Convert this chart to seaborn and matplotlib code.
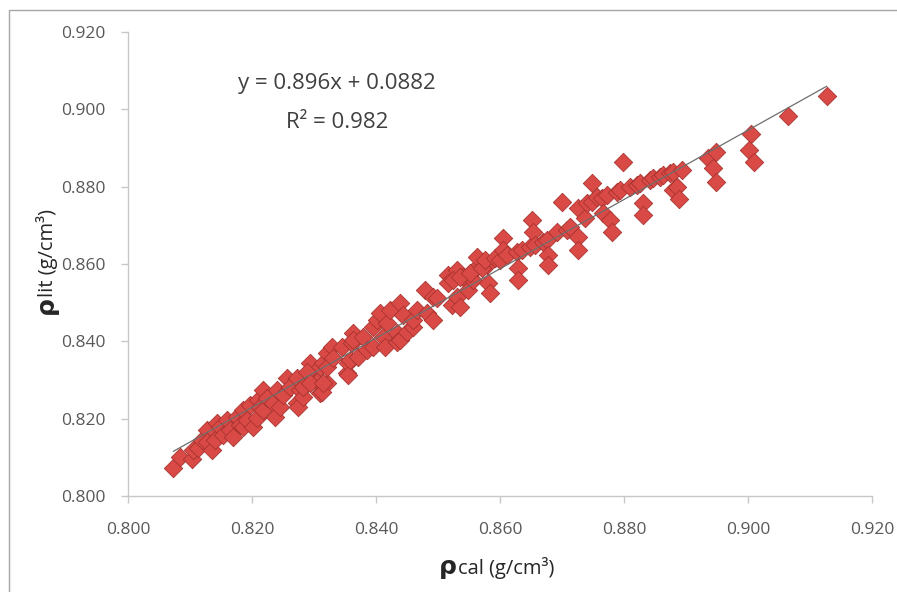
import matplotlib

matplotlib.use("Agg")
import matplotlib.pyplot as plt  # noqa: E402
import numpy as np  # noqa: E402
import seaborn as sns  # noqa: E402
from matplotlib.patches import Rectangle  # noqa: E402

# calculated density (x) vs literature density (y), g/cm3
rho_cal = [
    0.8073, 0.8084, 0.8103, 0.8105, 0.8113, 0.8119, 0.8127, 0.8127, 0.8135, 0.8140,
    0.8143, 0.8148, 0.8153, 0.8160, 0.8165, 0.8169, 0.8176, 0.8181, 0.8185, 0.8185,
    0.8192, 0.8197, 0.8202, 0.8208, 0.8210, 0.8213, 0.8218, 0.8218, 0.8224, 0.8234,
    0.8237, 0.8240, 0.8245, 0.8250, 0.8256, 0.8261, 0.8272, 0.8272, 0.8274, 0.8277,
    0.8282, 0.8289, 0.8294, 0.8294, 0.8305, 0.8305, 0.8310, 0.8315, 0.8321, 0.8321,
    0.8321, 0.8282, 0.8289, 0.8294, 0.8313, 0.8315, 0.8329, 0.8331, 0.8345, 0.8353,
    0.8355, 0.8355, 0.8358, 0.8361, 0.8363, 0.8363, 0.8371, 0.8379, 0.8385, 0.8395,
    0.8395, 0.8402, 0.8406, 0.8411, 0.8415, 0.8418, 0.8423, 0.8434, 0.8434, 0.8439,
    0.8439, 0.8444, 0.8450, 0.8460, 0.8460, 0.8466, 0.8479, 0.8482, 0.8492, 0.8492,
    0.8498, 0.8516, 0.8516, 0.8523, 0.8531, 0.8531, 0.8535, 0.8540, 0.8548, 0.8556,
    0.8563, 0.8563, 0.8579, 0.8581, 0.8584, 0.8524, 0.8535, 0.8552, 0.8571, 0.8576,
    0.8592, 0.8600, 0.8605, 0.8605, 0.8611, 0.8627, 0.8629, 0.8629, 0.8635, 0.8648,
    0.8652, 0.8653, 0.8656, 0.8669, 0.8676, 0.8677, 0.8677, 0.8692, 0.8700, 0.8708,
    0.8713, 0.8726, 0.8726, 0.8726, 0.8737, 0.8740, 0.8748, 0.8748, 0.8756, 0.8765,
    0.8766, 0.8773, 0.8777, 0.8781, 0.8789, 0.8794, 0.8798, 0.8810, 0.8821, 0.8826,
    0.8831, 0.8831, 0.8842, 0.8847, 0.8858, 0.8863, 0.8874, 0.8879, 0.8879, 0.8885,
    0.8889, 0.8894, 0.8935, 0.8944, 0.8948, 0.8948, 0.9005, 0.9002, 0.9010, 0.9065,
    0.9127,
]
rho_lit = [
    0.8072, 0.8101, 0.8096, 0.8119, 0.8124, 0.8145, 0.8171, 0.8140, 0.8119, 0.8145,
    0.8189, 0.8178, 0.8158, 0.8197, 0.8171, 0.8153, 0.8204, 0.8184, 0.8222, 0.8178,
    0.8197, 0.8235, 0.8178, 0.8202, 0.8248, 0.8230, 0.8274, 0.8222, 0.8253, 0.8241,
    0.8204, 0.8274, 0.8230, 0.8261, 0.8305, 0.8282, 0.8305, 0.8241, 0.8230, 0.8274,
    0.8256, 0.8292, 0.8318, 0.8344, 0.8326, 0.8295, 0.8266, 0.8344, 0.8370, 0.8292,
    0.8334, 0.8282, 0.8321, 0.8292, 0.8269, 0.8292, 0.8385, 0.8357, 0.8385, 0.8318,
    0.8344, 0.8313, 0.8352, 0.8396, 0.8422, 0.8404, 0.8360, 0.8411, 0.8378, 0.8437,
    0.8385, 0.8455, 0.8473, 0.8411, 0.8385, 0.8448, 0.8481, 0.8422, 0.8398, 0.8499,
    0.8404, 0.8468, 0.8424, 0.8437, 0.8455, 0.8481, 0.8533, 0.8473, 0.8515, 0.8455,
    0.8512, 0.8572, 0.8551, 0.8494, 0.8585, 0.8515, 0.8489, 0.8566, 0.8533, 0.8559,
    0.8592, 0.8618, 0.8598, 0.8551, 0.8525, 0.8559, 0.8566, 0.8577, 0.8590, 0.8610,
    0.8616, 0.8610, 0.8667, 0.8636, 0.8623, 0.8631, 0.8590, 0.8559, 0.8636, 0.8644,
    0.8714, 0.8683, 0.8649, 0.8657, 0.8662, 0.8623, 0.8598, 0.8683, 0.8761, 0.8688,
    0.8696, 0.8745, 0.8670, 0.8636, 0.8719, 0.8758, 0.8810, 0.8761, 0.8773, 0.8771,
    0.8732, 0.8779, 0.8714, 0.8683, 0.8786, 0.8792, 0.8864, 0.8799, 0.8804, 0.8810,
    0.8758, 0.8727, 0.8817, 0.8823, 0.8825, 0.8830, 0.8835, 0.8838, 0.8792, 0.8799,
    0.8768, 0.8843, 0.8874, 0.8848, 0.8890, 0.8812, 0.8936, 0.8895, 0.8864, 0.8983,
    0.9035,
]

# linear trendline as printed on the chart
slope = 0.896
intercept = 0.0882
r_squared = 0.982

ticks = [0.800, 0.820, 0.840, 0.860, 0.880, 0.900, 0.920]

sns.set_theme(style="white")
plt.rcParams["font.family"] = ["Open Sans", "DejaVu Sans"]

fig = plt.figure(figsize=(8.97, 5.92), dpi=100)
ax = fig.add_axes([128 / 897, 1 - 496 / 592, 744 / 897, 464 / 592])

sns.scatterplot(
    x=rho_cal, y=rho_lit, marker="D", s=88, color="#d94a46",
    edgecolor="#a83330", linewidth=0.6, ax=ax, zorder=2,
)

xs = np.array([min(rho_cal), max(rho_cal)])
ax.plot(xs, slope * xs + intercept, color="#6e6e6e", lw=0.9, zorder=3)

ax.set_xlim(0.800, 0.920)
ax.set_ylim(0.800, 0.920)
ax.set_xticks(ticks)
ax.set_yticks(ticks)
ax.set_xticklabels([f"{t:.3f}" for t in ticks])
ax.set_yticklabels([f"{t:.3f}" for t in ticks])
ax.tick_params(axis="both", colors="#c8c8c8", labelcolor="#595959",
               labelsize=12.5, length=5, width=1, direction="out")
ax.tick_params(axis="x", pad=14)
ax.tick_params(axis="y", pad=11)
ax.xaxis.set_ticks_position("bottom")
ax.yaxis.set_ticks_position("left")
for side in ["top", "right"]:
    ax.spines[side].set_visible(False)
for side in ["left", "bottom"]:
    ax.spines[side].set_color("#c8c8c8")
    ax.spines[side].set_linewidth(1)
ax.grid(False)

ax.text(0.8337, 0.9066, f"y = {slope}x + {intercept}",
        ha="center", va="center", fontsize=16, color="#404040")
ax.text(0.8337, 0.8965, f"R² = {r_squared}",
        ha="center", va="center", fontsize=16, color="#404040")

# axis titles: bold rho followed by the subscript word, sharing one baseline
fig.text(457 / 897, 1 - 574 / 592, "ρ", ha="right", va="baseline",
         fontsize=18, fontweight="bold", family="DejaVu Sans", color="#262626")
fig.text(458 / 897, 1 - 574 / 592, "cal (g/cm³)", ha="left", va="baseline",
         fontsize=14.5, color="#262626")
fig.text(53 / 897, 1 - 297 / 592, "lit (g/cm³)", ha="left", va="baseline",
         rotation=90, rotation_mode="anchor", fontsize=14.5, color="#262626")
fig.text(53 / 897, 1 - 296 / 592, "ρ", ha="right", va="baseline",
         rotation=90, rotation_mode="anchor", fontsize=18, fontweight="bold",
         family="DejaVu Sans", color="#262626")

# thin outer chart-area frame
fig.add_artist(Rectangle((9 / 897, -0.2), 1.2, 0.2 + (1 - 10 / 592),
                         transform=fig.transFigure, fill=False,
                         edgecolor="#a6a6a6", lw=1))

fig.savefig("out.png", dpi=100)
